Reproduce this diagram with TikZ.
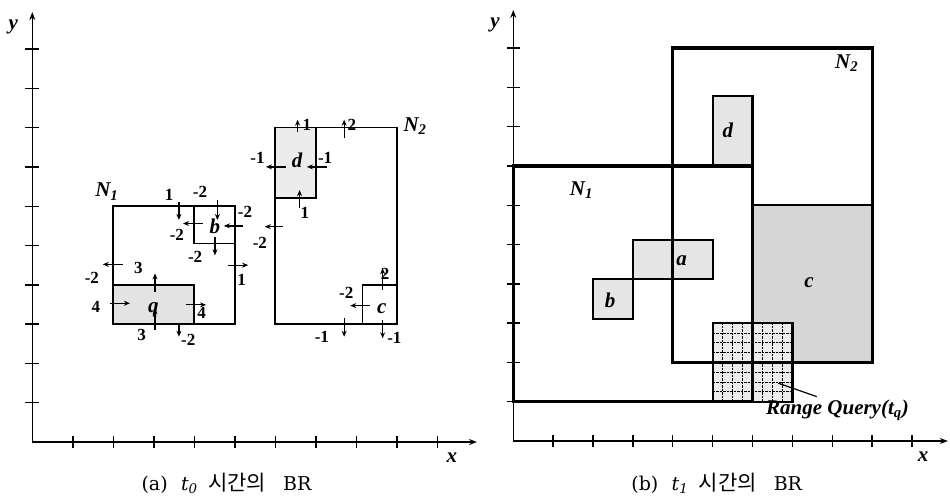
\documentclass[tikz,border=0pt]{standalone}
\usepackage{fontspec}
\setmainfont{Liberation Serif}
\newfontfamily\kr{Noto Sans CJK KR}
\newfontfamily\capserif{DejaVu Serif}
\usetikzlibrary{arrows.meta}
\begin{document}
\begin{tikzpicture}[x=1pt,y=1pt,
  ax/.style={line width=1.5pt,-{Stealth[length=8pt,width=6pt]}},
  tk/.style={line width=1.4pt},
  mv/.style={line width=1.3pt,-{Stealth[length=6pt,width=5pt]}},
  num/.style={font=\bfseries\fontsize{17}{17}\selectfont, inner sep=0pt},
  lab/.style={font=\bfseries\itshape\fontsize{21}{21}\selectfont, inner sep=0pt},
  captext/.style={font=\capserif\fontsize{19}{19}\selectfont, inner sep=0pt, anchor=base},
  box/.style={line width=1.7pt},
  sbox/.style={line width=2.2pt},
  bigbox/.style={line width=3.2pt},
  gq/.style={line width=0.8pt, dash pattern=on 2.5pt off 1pt},
]
\useasboundingbox (0,0) rectangle (950,-496);

% ---------------- left panel (a) ----------------
\begin{scope}[shift={(32.3pt,-442pt)}, x=40.5pt, y=39.3pt]
  \coordinate (Oa) at (0,0);
  \coordinate (Xa) at (10.98,0);
  \coordinate (Ya) at (0,10.94);
  \draw[ax] (Oa) -- (Xa);
  \draw[ax] (Oa) -- (Ya);
  \foreach \i in {1,...,10} {
    \draw[tk] (\i,-0.16) -- (\i,0.16);
    \draw[tk] (-0.17,\i) -- (0.17,\i);
  }
  \node[lab] (ya) at (-0.47,10.57) {y};
  \node[lab] (xa) at (10.36,-0.41) {x};

  % shaded q and d
  \fill[gray!22] (2,3) rectangle (4,4);
  \fill[gray!15] (6,6.2) rectangle (7,8);
  % N1 and its children
  \draw[box] (2,3) rectangle (5,6);
  \draw[box] (2,3) rectangle (4,4);
  \draw[box] (4,5.05) rectangle (5,6);
  % N2 and its children
  \draw[box] (6,3) rectangle (9,8);
  \draw[box] (6,6.2) rectangle (7,8);
  \draw[box] (8.15,3) rectangle (9,4);

  \node[lab] (N1a) at (1.84,6.37) {N\textsubscript{1}};
  \node[lab] (N2a) at (9.45,8.04) {N\textsubscript{2}};
  \node[lab] (qa) at (2.99,3.36) {q};
  \node[lab] (ba) at (4.51,5.48) {b};
  \node[lab] (da) at (6.54,7.18) {d};
  \node[lab] (ca) at (8.63,3.4) {c};

  % velocity arrows of N1
  \draw[mv] (3.62,6.1) -- (3.62,5.65);   \node[num] at (3.38,6.28) {1};
  \draw[mv] (4.57,6.15) -- (4.57,5.65);  \node[num] at (4.14,6.37) {-2};
  \draw[mv] (5.2,5.5) -- (4.73,5.5);     \node[num] at (5.25,5.85) {-2};
  \draw[mv] (4.22,5.56) -- (3.72,5.56);  \node[num] at (3.57,5.27) {-2};
  \draw[mv] (4.51,5.22) -- (4.51,4.75);  \node[num] at (4.02,4.71) {-2};
  \draw[mv] (4.83,4.5) -- (5.33,4.5);    \node[num] at (5.17,4.12) {1};
  \draw[mv] (2.24,4.52) -- (1.74,4.52);  \node[num] at (1.47,4.17) {-2};
  \draw[mv] (3.03,3.82) -- (3.03,4.29);  \node[num] at (2.62,4.42) {3};
  \draw[mv] (1.92,3.53) -- (2.41,3.53);  \node[num] at (1.57,3.44) {4};
  \draw[mv] (3.03,2.85) -- (3.03,3.4);   \node[num] at (2.7,2.72) {3};
  \draw[mv] (3.8,3.49) -- (4.29,3.49);   \node[num] at (4.18,3.28) {4};
  \draw[mv] (3.62,2.98) -- (3.62,2.68);  \node[num] at (3.85,2.6) {-2};

  % velocity arrows of N2
  \draw[mv] (6.55,7.9) -- (6.55,8.2);    \node[num] at (6.78,8.06) {1};
  \draw[mv] (7.7,7.73) -- (7.7,8.2);     \node[num] at (7.89,8.06) {2};
  \draw[mv] (6.26,7.0) -- (5.77,7.0);    \node[num] at (5.56,7.22) {-1};
  \draw[mv] (7.28,7.0) -- (6.78,7.0);    \node[num] at (7.23,7.22) {-1};
  \draw[mv] (6.6,5.95) -- (6.6,6.41);    \node[num] at (6.73,5.82) {1};
  \draw[mv] (6.2,5.48) -- (5.74,5.48);   \node[num] at (5.62,5.06) {-2};
  \draw[mv] (8.65,3.87) -- (8.65,4.42);  \node[num] at (8.71,4.29) {2};
  \draw[mv] (8.34,3.47) -- (7.85,3.47);  \node[num] at (7.75,3.8) {-2};
  \draw[mv] (7.7,3.15) -- (7.7,2.68);    \node[num] at (7.15,2.68) {-1};
  \draw[mv] (8.65,3.1) -- (8.65,2.64);   \node[num] at (8.94,2.66) {-1};
\end{scope}

% ---------------- right panel (b) ----------------
\begin{scope}[shift={(513.3pt,-441pt)}, x=39.87pt, y=39.3pt]
  \coordinate (Ob) at (0,0);
  \coordinate (Xb) at (10.9,0);
  \coordinate (Yb) at (0,10.97);
  \draw[ax] (Ob) -- (Xb);
  \draw[ax] (Ob) -- (Yb);
  \foreach \i in {1,...,10} {
    \draw[tk] (\i,-0.16) -- (\i,0.16);
    \draw[tk] (-0.17,\i) -- (0.17,\i);
  }
  \node[lab] (yb) at (-0.46,10.59) {y};
  \node[lab] (xb) at (10.28,-0.4) {x};

  % fills
  \fill[gray!32] (6,2) rectangle (9,6);
  \fill[gray!20] (5,7) rectangle (6,8.78);
  \fill[gray!20] (3,4.12) rectangle (5,5.11);
  \fill[gray!20] (2,3.1) rectangle (3,4.12);
  \fill[gray!15] (5,1) rectangle (7,3);
  \foreach \k in {1,...,7} {
    \draw[gq] ({5+\k*0.25},1) -- ({5+\k*0.25},3);
    \draw[gq] (5,{1+\k*0.25}) -- (7,{1+\k*0.25});
  }
  % outlines
  \draw[sbox] (6,2) rectangle (9,6);
  \draw[sbox] (5,7) rectangle (6,8.78);
  \draw[sbox] (3,4.12) rectangle (5,5.11);
  \draw[sbox] (2,3.1) rectangle (3,4.12);
  \draw[sbox] (5,1) rectangle (7,3);
  \draw[bigbox] (4,2) rectangle (9,10);
  \draw[bigbox] (0,1) rectangle (6,7);

  \node[lab] (N2b) at (8.36,9.61) {N\textsubscript{2}};
  \node[lab] (N1b) at (1.71,6.39) {N\textsubscript{1}};
  \node[lab] (db) at (5.38,7.91) {d};
  \node[lab] (ab) at (4.22,4.6) {a};
  \node[lab] (bb) at (2.43,3.59) {b};
  \node[lab] (cb) at (7.42,4.03) {c};

  \node[lab, font=\bfseries\itshape\fontsize{21}{21}\selectfont] (rq) at (8.13,0.78) {Range Query(t\textsubscript{q})};
  \coordinate (rqp) at (6.65,1.47);
  \coordinate (rqs) at (7.61,1.13);
  \draw[line width=1.2pt] (rqs) -- (rqp);
\end{scope}

% captions
\node[captext] (capa) at (226.5,-490) {(a)\hspace{0.7em}\textit{t\textsubscript{0}}\hspace{0.55em}{\kr\fontsize{21}{21}\selectfont 시간의}\hspace{0.9em}BR};
\node[captext] (capb) at (716.7,-490) {(b)\hspace{0.7em}\textit{t\textsubscript{1}}\hspace{0.55em}{\kr\fontsize{21}{21}\selectfont 시간의}\hspace{0.9em}BR};
\end{tikzpicture}
\end{document}
